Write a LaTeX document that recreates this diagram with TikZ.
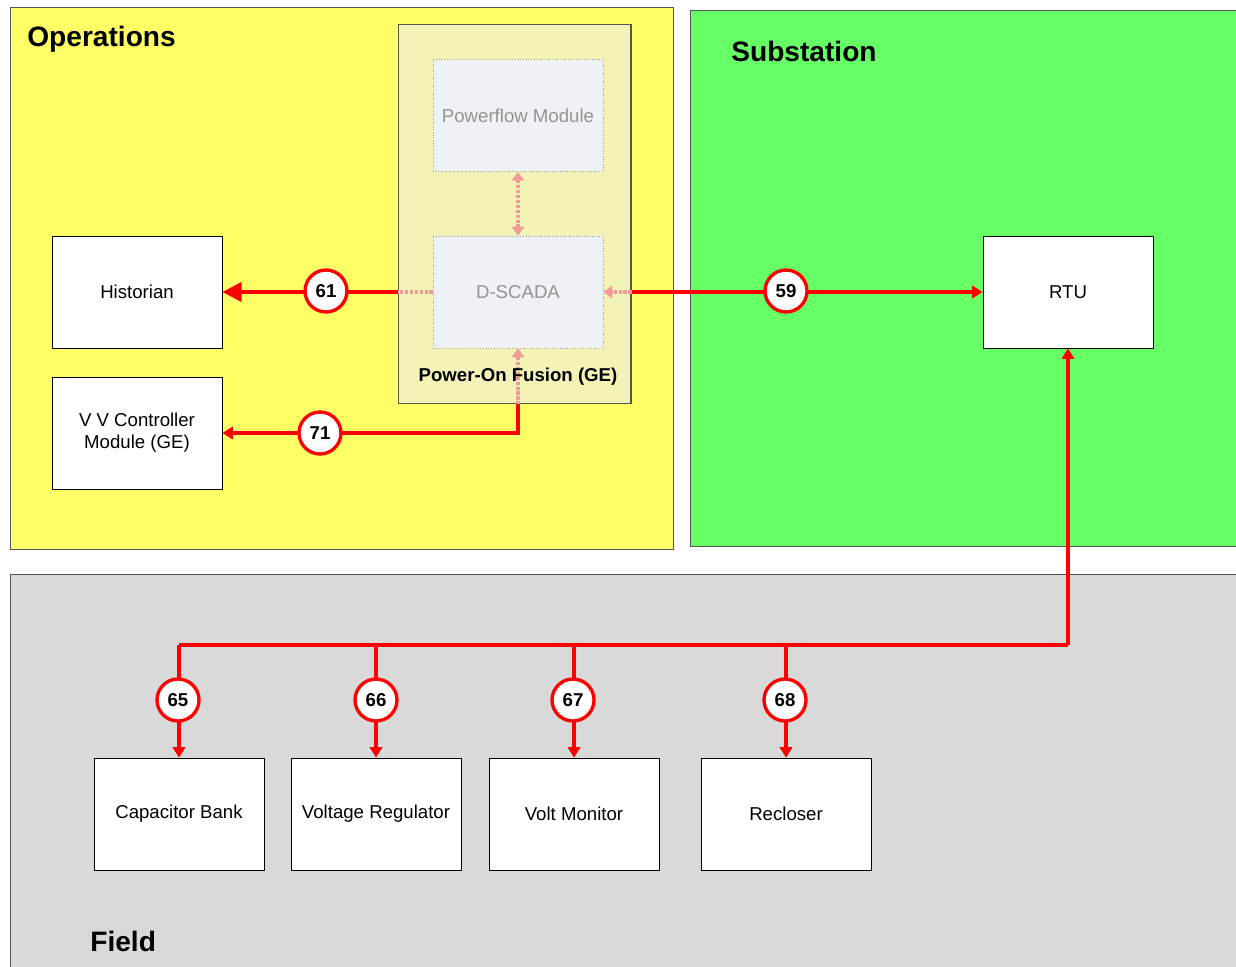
\documentclass[tikz,border=0pt]{standalone}
\usepackage{fontspec}
\setmainfont{Liberation Sans}
\usetikzlibrary{arrows.meta}
\definecolor{opyellow}{HTML}{FFFF66}
\definecolor{subgreen}{HTML}{66FF66}
\definecolor{fieldgray}{HTML}{D9D9D9}
\definecolor{fusionfill}{HTML}{F3F3B8}
\definecolor{innerfill}{HTML}{EEF1F6}
\definecolor{linered}{HTML}{FF0000}
\definecolor{fadered}{HTML}{F29A9A}
\definecolor{panelborder}{HTML}{555555}
\begin{document}
\begin{tikzpicture}[x=0.02cm,y=-0.02cm,
 panel/.style={draw=panelborder,line width=0.5pt},
 box/.style={draw=black,line width=0.4pt,fill=white,minimum width=3.4cm,minimum height=2.24cm,align=center,inner sep=2pt,font=\fontsize{10.6}{12.5}\selectfont},
 innerbox/.style={draw=gray!75,densely dotted,line width=0.5pt,fill=innerfill,minimum width=3.4cm,minimum height=2.24cm,text=gray!85,font=\fontsize{10.6}{12.5}\selectfont},
 num/.style={circle,draw=linered,line width=1.9pt,fill=white,minimum size=0.84cm,inner sep=0pt,font=\bfseries\fontsize{10.6}{12}\selectfont},
 conn/.style={draw=linered,line width=1.9pt},
 tip/.style={-{Triangle[length=6pt,width=7pt]}},
 bigtip/.style={-{Triangle[length=11pt,width=11pt]}},
 faded/.style={draw=fadered,line width=1.8pt,densely dotted},
 fadedtip/.style={-{Triangle[length=5pt,width=7pt]}},
 title/.style={font=\bfseries\fontsize{16}{19}\selectfont,anchor=west,inner sep=0pt},
 ]
\useasboundingbox (0,0) rectangle (1236,966);
% panels
\fill[white] (0,0) rectangle (1236,966);
\draw[panel,fill=opyellow] (10,7) rectangle (673,549);
\draw[panel,fill=subgreen] (690,10) rectangle (1240,546);
\draw[panel,fill=fieldgray] (10,574) rectangle (1240,972);
\node[title] (optitle) at (27,39) {Operations};
\node[title] (subtitle) at (731,51) {Substation};
\node[title] (fieldtitle) at (90,941) {Field};
% fusion container
\node[draw=panelborder,line width=0.6pt,fill=fusionfill,minimum width=4.66cm,minimum height=7.6cm,inner sep=0pt] (fusion) at (514.5,214) {};
\node[innerbox] (powerflow) at (518,115.5) {Powerflow Module};
\node[innerbox] (dscada) at (518,292) {D-SCADA};
% boxes
\node[box] (hist) at (137,292) {Historian};
\node[box] (vv) at (137,433) {V V Controller\\Module (GE)};
\node[box] (rtu) at (1068,292) {RTU};
\node[box] (cap) at (179,814) {Capacitor Bank};
\node[box] (vr) at (376,814) {Voltage Regulator};
\node[box] (vm) at (574,814) {Volt Monitor};
\node[box] (rec) at (786,814) {Recloser};
% faded internal links
\draw[faded,{Triangle[length=5pt,width=7pt]}-{Triangle[length=5pt,width=7pt]}] (powerflow.south) -- (dscada.north);
\draw[faded] (dscada.west) -- (fusion.west |- dscada.west);
\draw[faded,fadedtip] (fusion.east |- dscada.east) -- (dscada.east);
\draw[faded,fadedtip] (dscada.south |- fusion.south) -- (dscada.south);
% connectors
\draw[conn,bigtip] (fusion.west |- dscada.west) -- (hist.east);
\draw[conn,tip] (fusion.east |- dscada.east) -- (rtu.west);
\draw[conn,tip] (dscada.south |- fusion.south) |- (vv.east);
\coordinate (bus) at (1068,645);
\draw[conn] (cap.north |- bus) -- (bus);
\draw[conn,tip] (bus) -- (rtu.south);
\draw[conn,tip] (cap.north |- bus) -- (cap.north);
\draw[conn,tip] (vr.north |- bus) -- (vr.north);
\draw[conn,tip] (vm.north |- bus) -- (vm.north);
\draw[conn,tip] (rec.north |- bus) -- (rec.north);
\node[font=\bfseries\fontsize{10.6}{12.5}\selectfont,inner sep=0pt] (fusionlabel) at (518,377) {Power-On Fusion (GE)};
% numbered markers
\node[num] (c61) at (326,291) {61};
\node[num] (c59) at (786,291) {59};
\node[num] (c71) at (320,433) {71};
\node[num] (c65) at (178,700) {65};
\node[num] (c66) at (376,700) {66};
\node[num] (c67) at (573,700) {67};
\node[num] (c68) at (785,700) {68};
\end{tikzpicture}
\end{document}
